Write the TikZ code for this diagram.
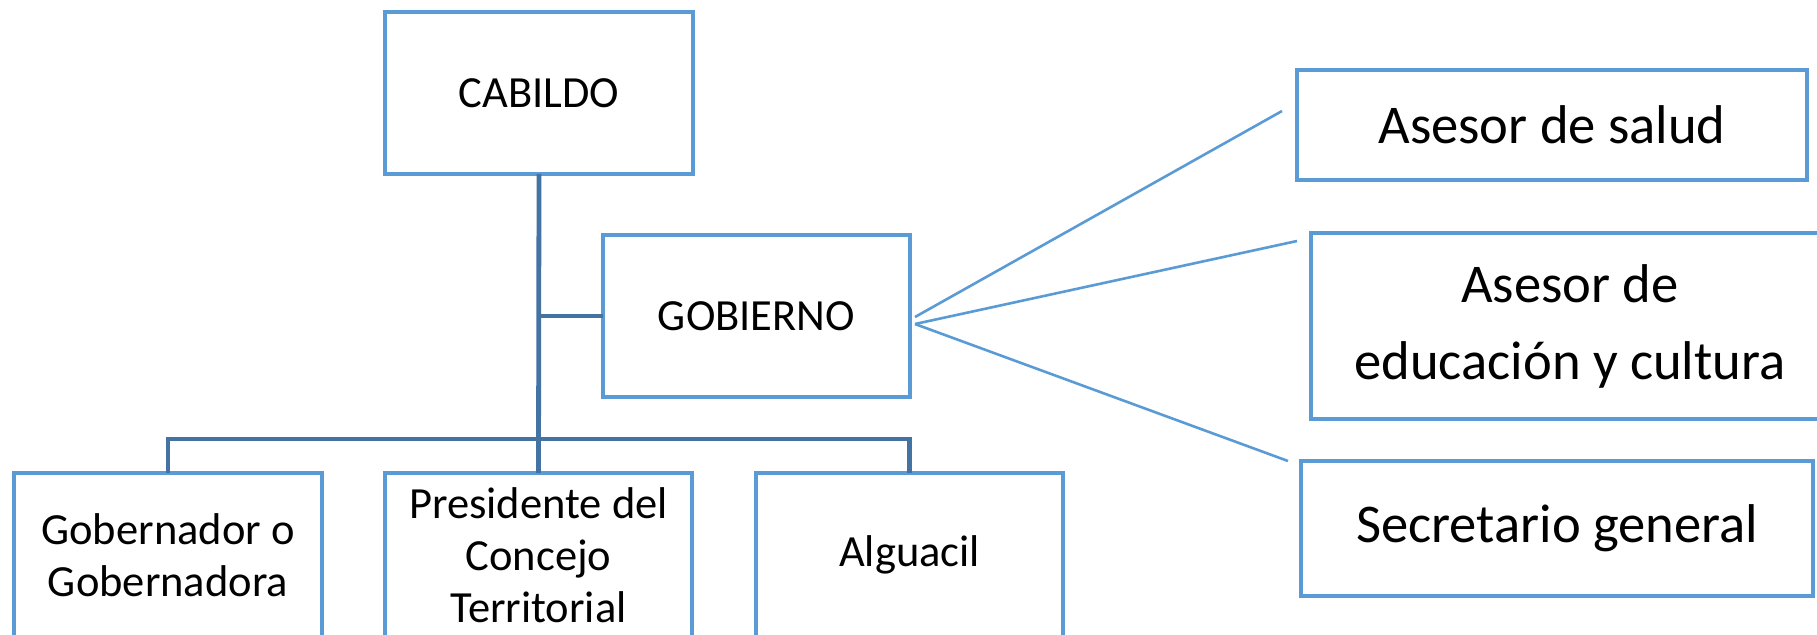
\documentclass[tikz,border=0pt]{standalone}
\usepackage{fontspec}
\setmainfont{Carlito}
\definecolor{boxblue}{RGB}{91,155,213}
\definecolor{linkblue}{RGB}{68,114,163}
\begin{document}
\begin{tikzpicture}[x=0.5pt,y=-0.5pt,
  box/.style={draw=boxblue, line width=2.3pt, fill=white, outer sep=0pt, inner sep=0pt, align=center, text=black},
  smalltext/.style={font=\fontsize{22.25}{26}\selectfont},
  bigtext/.style={font=\fontsize{27.3}{38.5}\selectfont},
  tree/.style={draw=linkblue, line width=2.4pt},
  fan/.style={draw=boxblue, line width=1.3pt}]
\useasboundingbox (0,0) rectangle (1817,634);
% left part
\node[box, smalltext, minimum width=154pt, minimum height=81pt] (cab) at (539,93) {CABILDO};
\node[box, smalltext, minimum width=153.5pt, minimum height=81pt] (gob) at (756.5,316) {GOBIERNO};
\node[box, smalltext, minimum width=154pt, minimum height=82pt] (gobr) at (168,555) {Gobernador o\\Gobernadora};
\node[box, smalltext, minimum width=153.5pt, minimum height=82pt] (pres) at (538.5,555) {Presidente del\\Concejo\\Territorial};
\node[box, smalltext, minimum width=153.5pt, minimum height=82pt] (alg) at (909.5,555) {Alguacil};
% right part
\node[box, bigtext, minimum width=255pt, minimum height=55pt] (salud) at (1552,125) {Asesor de salud};
\node[box, bigtext, minimum width=259pt, minimum height=93pt] (educ) at (1570,326) {Asesor de\\educación y cultura};
\node[box, bigtext, minimum width=256pt, minimum height=67.5pt] (secr) at (1557,528.5) {\raisebox{3.5pt}{Secretario general}};
% tree connectors
\coordinate (bus) at (539,439);
\draw[tree] (cab.south) -- (pres.north);
\draw[tree, shorten >=-1.2pt] (gob.west) -- (gob.west -| cab.south);
\draw[tree] (gobr.north) |- (bus) -| (alg.north);
% fan connectors
\coordinate (fs1) at (915,317);
\coordinate (fs2) at (915,324);
\coordinate (fe1) at (1282,111);
\coordinate (fe2) at (1297,241);
\coordinate (fe3) at (1288,461);
\draw[fan] (fs1) -- (fe1);
\draw[fan] (fs2) -- (fe2);
\draw[fan] (fs2) -- (fe3);
\end{tikzpicture}
\end{document}
